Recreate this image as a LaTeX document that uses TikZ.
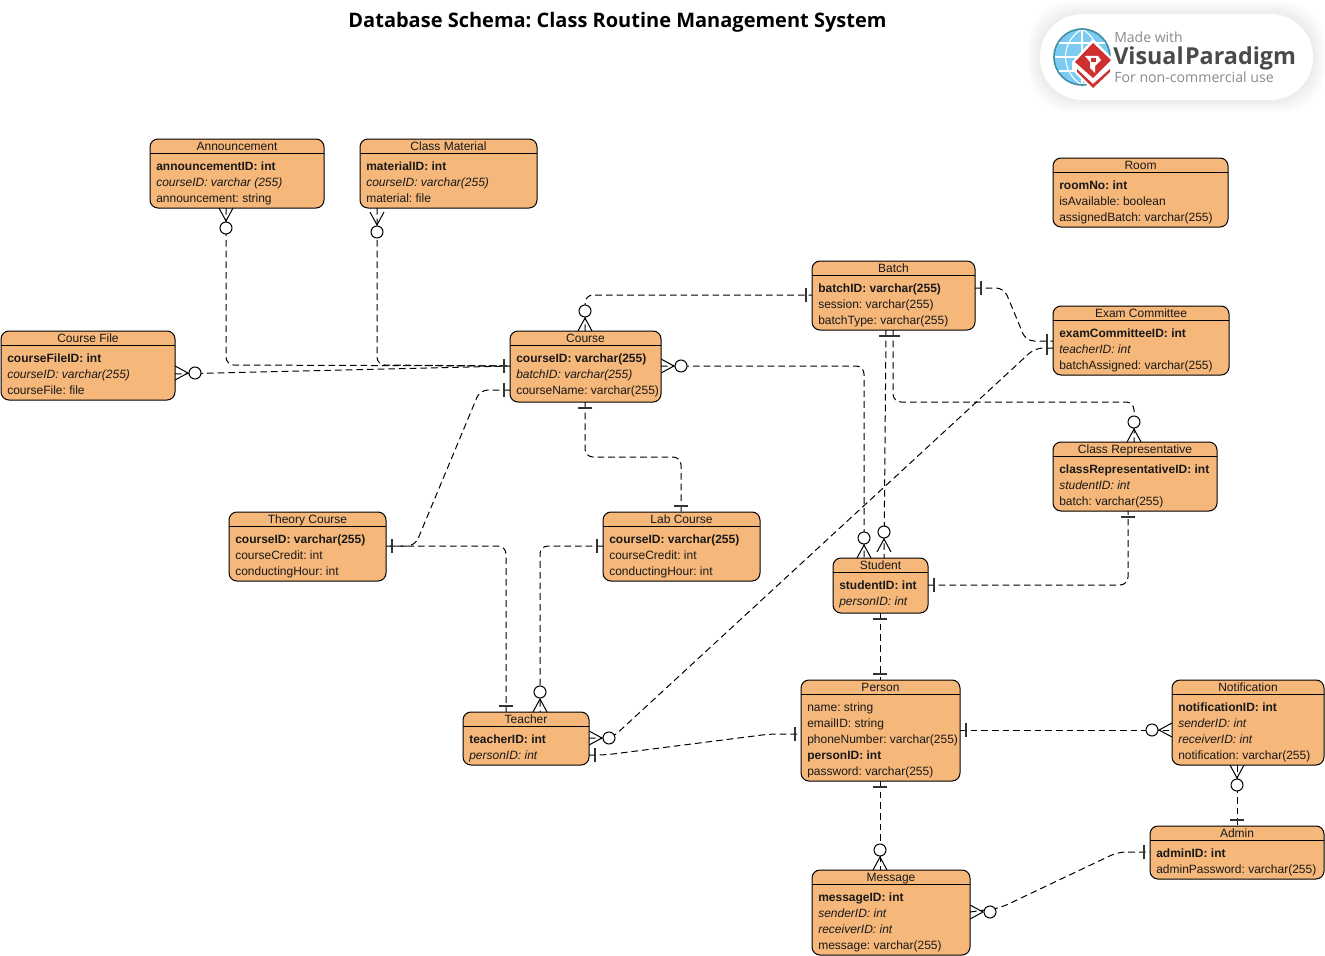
\documentclass[tikz,border=0pt]{standalone}
\usepackage{fontspec}
\setmainfont{Liberation Sans}
\newfontfamily\titlefont{Open Sans}
\newfontfamily\logofont{Open Sans}
\definecolor{boxfill}{HTML}{F5B77A}
\definecolor{vpgray}{HTML}{8A8A8A}
\definecolor{vpdark}{HTML}{4A4A4A}
\definecolor{vpred}{HTML}{CF2F2F}
\definecolor{vpblue}{HTML}{7CCBF2}
\definecolor{vpteal}{HTML}{3F8FA0}
\tikzset{
  x=0.75pt,y=-0.75pt,
  ebox/.style={draw=black,line width=0.75pt,fill=boxfill,rounded corners=6pt,inner sep=0pt,outer sep=0pt},
  rowtext/.style={anchor=base west,inner sep=0pt,font=\fontsize{9}{10}\selectfont,text=black!90},
  headtext/.style={anchor=base,inner sep=0pt,font=\fontsize{9}{10}\selectfont,text=black!90},
  rel/.style={draw=black,line width=0.75pt,dash pattern=on 5pt off 3pt,rounded corners=6pt},
  pics/zmany/.style={code={
    \draw[line width=0.75pt,black] (0,-7) -- (13,0) -- (0,7);
    \draw[line width=0.75pt,black,fill=white] (20,0) circle[radius=6];
  }},
  pics/onebar/.style={code={
    \draw[line width=1.1pt,black!80] (6,-7) -- (6,7);
  }},
}
% name, x1, y1, x2, y2, title, rows
\newcommand{\entity}[7]{%
  \path[ebox] (#2,#3) rectangle (#4,#5);
  \node[minimum width={(#4-#2)*0.75pt},minimum height={(#5-#3)*0.75pt},inner sep=0pt,outer sep=0pt] (#1) at ({(#2+#4)/2},{(#3+#5)/2}) {};
  \draw[line width=0.75pt] (#1.north west |- 0,#3+14) -- (#1.north east |- 0,#3+14);
  \node[headtext] (#1-title) at ({(#2+#4)/2},#3+11) {#6};
  \foreach \rowt [count=\ri] in {#7} {
    \node[rowtext] (#1-\ri) at (#2+6,{#3+31+16*(\ri-1)}) {\rowt};
  }
}
\begin{document}
\frenchspacing
\begin{tikzpicture}
\useasboundingbox (0,0) rectangle (1325,956);
\fill[white] (0,0) rectangle (1325,956);

\node[font=\titlefont\bfseries\fontsize{15}{18}\selectfont,inner sep=0pt] (title) at (617.5,22) {Database Schema: Class Routine Management System};

% logo
\foreach \g in {12,10,8,6,4,2}{
  \fill[black,opacity=0.012,rounded corners=32pt] (1040-\g,14-\g) rectangle (1313+\g,100+\g);
}
\fill[white,rounded corners=32pt] (1040,14) rectangle (1313,100);
\fill[vpblue] (1082,57) circle[radius=28];
\draw[white,line width=0.8pt] (1082,29) -- (1082,85) (1054,57) -- (1110,57) (1058,43) -- (1106,43) (1058,71) -- (1106,71);
\draw[white,line width=0.8pt] (1082,29) .. controls (1060,42) and (1060,72) .. (1082,85);
\draw[white,line width=0.8pt] (1082,29) .. controls (1104,42) and (1104,72) .. (1082,85);
\draw[vpteal,line width=1.2pt] (1082,57) circle[radius=28];
\fill[white] (1093,39) -- (1115,61) -- (1115,70) -- (1093,91) -- (1072,70) -- (1072,62) -- cycle;
\fill[vpred] (1093,43) -- (1111,60) -- (1093,78) -- (1075,62) -- cycle;
\fill[vpred] (1077,69) -- (1093,84) -- (1110,69) -- (1110,72) -- (1093,88) -- (1077,72) -- cycle;
\fill[white] (1085,56) -- (1098,56) -- (1101,60) -- (1095,66) -- (1095,73) -- (1090,68) -- (1090,62) -- cycle;
\fill[vpred] (1091,58.5) rectangle (1096,62);
\node[font=\logofont\fontsize{10.5}{12}\selectfont,text=vpgray,anchor=west,inner sep=0pt] (vp1) at (1114,37) {Made with};
\node[font=\logofont\bfseries\fontsize{17.5}{20}\selectfont,text=vpdark,anchor=west,inner sep=0pt] (vp2) at (1113,58) {Visual\kern1pt Paradigm};
\node[font=\logofont\fontsize{10.6}{12}\selectfont,text=vpgray,anchor=west,inner sep=0pt] (vp3) at (1114,77) {For non-commercial use};

% entities
\entity{ann}{150}{139}{324}{208}{Announcement}{{\bfseries announcementID: int},{\itshape courseID: varchar (255)},announcement: string}
\entity{mat}{360}{139}{537}{208}{Class Material}{{\bfseries materialID: int},{\itshape courseID: varchar(255)},material: file}
\entity{cfile}{1}{331}{175}{400}{Course File}{{\bfseries courseFileID: int},{\itshape courseID: varchar(255)},courseFile: file}
\entity{course}{510}{331}{661}{402}{Course}{{\bfseries courseID: varchar(255)},{\itshape batchID: varchar(255)},courseName: varchar(255)}
\entity{batch}{812}{261}{975}{330}{Batch}{{\bfseries batchID: varchar(255)},session: varchar(255),batchType: varchar(255)}
\entity{room}{1053}{158}{1228}{227}{Room}{{\bfseries roomNo: int},isAvailable: boolean,assignedBatch: varchar(255)}
\entity{exam}{1053}{306}{1229}{375}{Exam Committee}{{\bfseries examCommitteeID: int},{\itshape teacherID: int},batchAssigned: varchar(255)}
\entity{crep}{1053}{442}{1217}{511}{Class Representative}{{\bfseries classRepresentativeID: int},{\itshape studentID: int},batch: varchar(255)}
\entity{theory}{229}{512}{386}{581}{Theory Course}{{\bfseries courseID: varchar(255)},courseCredit: int,conductingHour: int}
\entity{lab}{603}{512}{760}{581}{Lab Course}{{\bfseries courseID: varchar(255)},courseCredit: int,conductingHour: int}
\entity{student}{833}{558}{928}{613}{Student}{{\bfseries studentID: int},{\itshape personID: int}}
\entity{teacher}{463}{712}{589}{765}{Teacher}{{\bfseries teacherID: int},{\itshape personID: int}}
\entity{person}{801}{680}{960}{781}{Person}{name: string,emailID: string,phoneNumber: varchar(255),{\bfseries personID: int},password: varchar(255)}
\entity{notif}{1172}{680}{1324}{765}{Notification}{{\bfseries notificationID: int},{\itshape senderID: int},{\itshape receiverID: int},notification: varchar(255)}
\entity{admin}{1150}{826}{1324}{879}{Admin}{{\bfseries adminID: int},adminPassword: varchar(255)}
\entity{msg}{812}{870}{970}{955}{Message}{{\bfseries messageID: int},{\itshape senderID: int},{\itshape receiverID: int},message: varchar(255)}

% connectors
\path[rel] (ann.south -| 226,0) -- (226,365) -- (course.west |- 0,366);
\path[rel] (mat.south -| 377,0) -- (377,365) -- (course.west |- 0,366);
\path[rel] (cfile.east |- 0,374) -- (course.west |- 0,366);
\path[rel] (course.north -| 585,0) -- (585,295) -- (batch.west |- 0,295);
\path[rel] (course.east |- 0,366) -- (864,366) -- (student.north -| 864,0);
\path[rel] (course.west |- 0,390) -- (480,390) -- (415,546) -- (theory.east |- 0,546);
\path[rel] (theory.east |- 0,546) -- (506,546) -- (teacher.north -| 506,0);
\path[rel] (course.south -| 585,0) -- (585,457) -- (681,457) -- (lab.north -| 681,0);
\path[rel] (lab.west |- 0,546) -- (540,546) -- (teacher.north -| 540,0);
\path[rel] (batch.south -| 886,0) -- (student.north -| 884,0);
\path[rel] (batch.south -| 893,0) -- (893,402) -- (1134,402) -- (crep.north -| 1134,0);
\path[rel] (batch.east |- 0,288) -- (1004,288) -- (1026,341) -- (exam.west |- 0,341);
\path[rel] (teacher.east |- 0,738) -- (612,738) -- (1035,348) -- (exam.west |- 0,348);
\path[rel] (student.east |- 0,585) -- (1128,585) -- (crep.south -| 1128,0);
\path[rel] (student.south -| 880,0) -- (person.north -| 880,0);
\path[rel] (teacher.east |- 0,755) -- (605,755) -- (770,734) -- (person.west |- 0,734);
\path[rel] (person.east |- 0,730) -- (notif.west |- 0,730);
\path[rel] (notif.south -| 1237,0) -- (admin.north -| 1237,0);
\path[rel] (person.south -| 880,0) -- (msg.north -| 880,0);
\path[rel] (msg.east |- 0,912) -- (1000,908) -- (1118,852) -- (admin.west |- 0,852);

% connector ends
\pic[rotate=270] at (ann.south -| 226,0) {zmany};
\pic[rotate=270] at (377,212) {zmany};
\pic at (cfile.east |- 0,373) {zmany};
\pic[rotate=90] at (course.north -| 585,0) {zmany};
\pic at (course.east |- 0,366) {zmany};
\pic[rotate=90] at (student.north -| 864,0) {zmany};
\pic[rotate=90] at (884,552) {zmany};
\pic[rotate=90] at (crep.north -| 1134,0) {zmany};
\pic[rotate=90] at (teacher.north -| 540,0) {zmany};
\pic at (teacher.east |- 0,738) {zmany};
\pic[rotate=180] at (notif.west |- 0,730) {zmany};
\pic[rotate=270] at (notif.south -| 1237,0) {zmany};
\pic[rotate=90] at (msg.north -| 880,0) {zmany};
\pic at (msg.east |- 0,912) {zmany};

\pic[rotate=180] at (course.west |- 0,366) {onebar};
\pic[rotate=180] at (course.west |- 0,390) {onebar};
\pic[rotate=270] at (course.south -| 585,0) {onebar};
\pic[rotate=180] at (batch.west |- 0,295) {onebar};
\pic[rotate=270] at (batch.south -| 886,0) {onebar};
\pic[rotate=270] at (batch.south -| 893,0) {onebar};
\pic at (batch.east |- 0,288) {onebar};
\pic[rotate=180] at (exam.west |- 0,341) {onebar};
\pic[rotate=180] at (exam.west |- 0,348) {onebar};
\pic[rotate=270] at (crep.south -| 1128,0) {onebar};
\pic at (student.east |- 0,585) {onebar};
\pic[rotate=270] at (student.south -| 880,0) {onebar};
\pic[rotate=90] at (person.north -| 880,0) {onebar};
\pic at (theory.east |- 0,546) {onebar};
\pic[rotate=90] at (teacher.north -| 506,0) {onebar};
\pic[rotate=90] at (lab.north -| 681,0) {onebar};
\pic[rotate=180] at (lab.west |- 0,546) {onebar};
\pic at (teacher.east |- 0,755) {onebar};
\pic[rotate=180] at (person.west |- 0,734) {onebar};
\pic at (person.east |- 0,730) {onebar};
\pic[rotate=270] at (person.south -| 880,0) {onebar};
\pic[rotate=90] at (admin.north -| 1237,0) {onebar};
\pic[rotate=180] at (admin.west |- 0,852) {onebar};
\end{tikzpicture}
\end{document}
